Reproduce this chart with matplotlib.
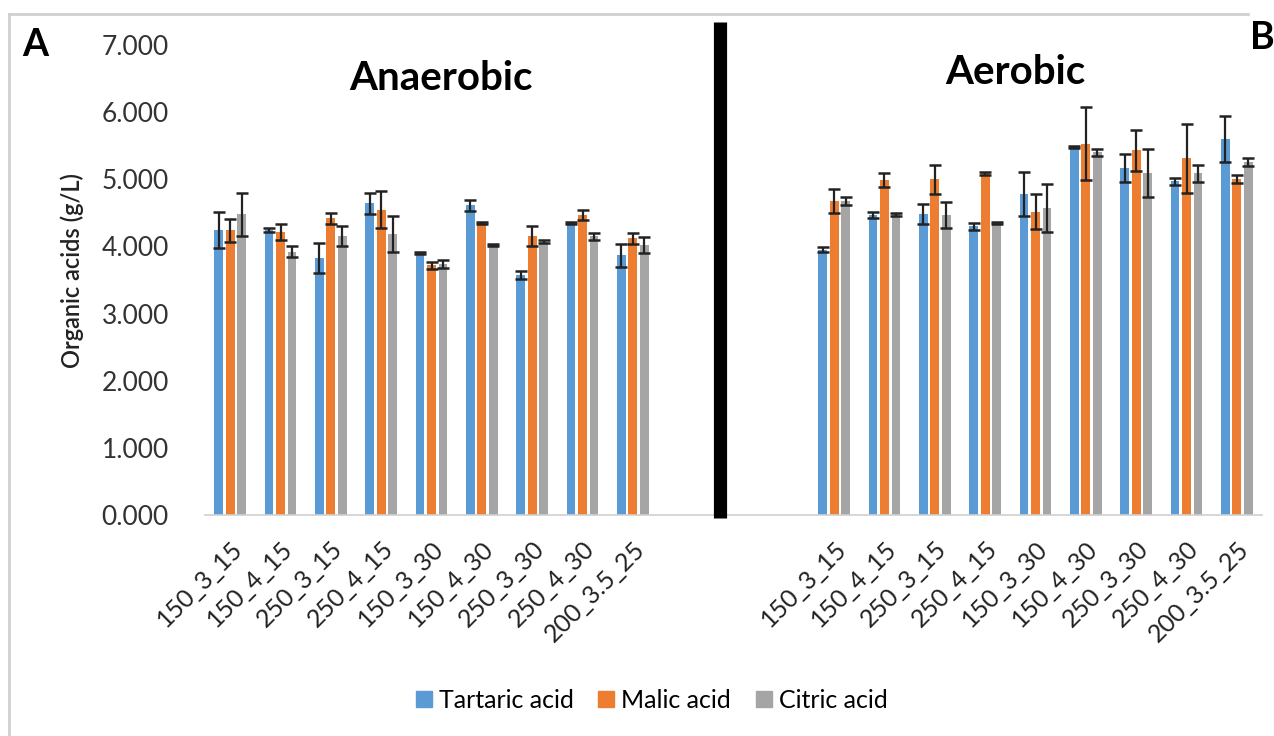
import matplotlib.pyplot as plt
import matplotlib.lines as mlines
import numpy as np

plt.rcParams['font.family'] = ['Lato', 'DejaVu Sans']

# treatment codes: temperature_pH_time
conditions = ['150_3_15', '150_4_15', '250_3_15', '250_4_15', '150_3_30',
              '150_4_30', '250_3_30', '250_4_30', '200_3.5_25']

# anaerobic run (g/L) and standard deviations
tartaric_an = [4.24, 4.24, 3.83, 4.64, 3.90, 4.61, 3.58, 4.35, 3.87]
malic_an = [4.24, 4.22, 4.42, 4.55, 3.72, 4.35, 4.15, 4.47, 4.12]
citric_an = [4.48, 3.92, 4.15, 4.18, 3.74, 4.02, 4.07, 4.15, 4.02]
tartaric_an_sd = [0.27, 0.03, 0.22, 0.16, 0.02, 0.08, 0.06, 0.02, 0.17]
malic_an_sd = [0.17, 0.12, 0.08, 0.27, 0.05, 0.02, 0.15, 0.08, 0.08]
citric_an_sd = [0.32, 0.08, 0.15, 0.27, 0.06, 0.02, 0.02, 0.05, 0.12]

# aerobic run
tartaric_ae = [3.95, 4.47, 4.48, 4.30, 4.78, 5.48, 5.17, 4.97, 5.60]
malic_ae = [4.68, 4.99, 5.00, 5.09, 4.52, 5.53, 5.43, 5.31, 5.00]
citric_ae = [4.67, 4.48, 4.47, 4.35, 4.57, 5.40, 5.09, 5.09, 5.26]
tartaric_ae_sd = [0.04, 0.05, 0.15, 0.05, 0.33, 0.02, 0.21, 0.05, 0.34]
malic_ae_sd = [0.18, 0.10, 0.22, 0.02, 0.26, 0.54, 0.31, 0.51, 0.06]
citric_ae_sd = [0.06, 0.02, 0.19, 0.02, 0.36, 0.05, 0.36, 0.13, 0.06]

acids = ['Tartaric acid', 'Malic acid', 'Citric acid']
colors = ['#5B9BD5', '#ED7D31', '#A5A5A5']

fig = plt.figure(figsize=(12.74, 7.36), dpi=100)
W, H = 1274, 736
ax = fig.add_axes([205 / W, 1 - 515 / H, (1262 - 205) / W, 470 / H])

# both runs share one category axis, three empty slots in between
x_an = np.arange(9)
x_ae = np.arange(12, 21)
pitch = 0.228
width = 0.175

an = [(tartaric_an, tartaric_an_sd), (malic_an, malic_an_sd), (citric_an, citric_an_sd)]
ae = [(tartaric_ae, tartaric_ae_sd), (malic_ae, malic_ae_sd), (citric_ae, citric_ae_sd)]
for k in range(3):
    off = (k - 1) * pitch
    for xs, (vals, sd) in ((x_an, an[k]), (x_ae, ae[k])):
        ax.bar(xs + off, vals, width, color=colors[k], zorder=2)
        ax.errorbar(xs + off, vals, yerr=sd, fmt='none', ecolor='#222222',
                    elinewidth=1.6, capsize=4, capthick=1.8, zorder=3)

# black divider between the two panels
ax.plot([9.74, 9.74], [-0.05, 7.34], color='black', lw=9.5,
        solid_capstyle='butt', clip_on=False, zorder=4)

ax.set_xlim(-0.5, 20.5)
ax.set_ylim(0, 7)
ax.set_yticks(np.arange(0, 8))
ax.set_yticklabels(['%.3f' % v for v in range(8)], fontsize=19, color='#333333')
ticks = list(x_an) + list(x_ae)
ax.set_xticks(ticks)
ax.set_xticklabels(conditions + conditions, rotation=45, ha='right',
                   rotation_mode='anchor', fontsize=18, color='#222222')
ax.tick_params(axis='both', length=0)
ax.tick_params(axis='y', pad=26)
ax.tick_params(axis='x', pad=16)
for s in ['top', 'right', 'left']:
    ax.spines[s].set_visible(False)
ax.spines['bottom'].set_color('#D0D0D0')
ax.spines['bottom'].set_linewidth(1.2)

fig.text(72 / W, 1 - 270 / H, 'Organic acids (g/L)', rotation=90, ha='center',
         va='center', fontsize=17, fontweight='semibold', color='#222222')
fig.text(441 / W, 1 - 78 / H, 'Anaerobic', ha='center', va='center',
         fontsize=29, fontweight='bold')
fig.text(1015 / W, 1 - 73 / H, 'Aerobic', ha='center', va='center',
         fontsize=29, fontweight='bold')
fig.text(35 / W, 1 - 45 / H, 'A', ha='center', va='center',
         fontsize=27, fontweight='bold')
fig.text(1262 / W, 1 - 38 / H, 'B', ha='center', va='center',
         fontsize=27, fontweight='bold')

# outer frame, only top and left edges visible
fig.add_artist(mlines.Line2D([9 / W, 1248 / W], [1 - 14 / H, 1 - 14 / H],
                             color='#D0D0D0', lw=2))
fig.add_artist(mlines.Line2D([9 / W, 9 / W], [1 - 14 / H, 0],
                             color='#D0D0D0', lw=2))

handles = [plt.Line2D([], [], marker='s', ls='none', markersize=11,
                      markerfacecolor=c, markeredgecolor=c) for c in colors]
fig.legend(handles, acids, loc='center', bbox_to_anchor=(652 / W, 1 - 700 / H),
           ncol=3, frameon=False, fontsize=18, handlelength=0.6,
           handletextpad=0.3, columnspacing=1.0)

fig.savefig('out.png', dpi=100)
